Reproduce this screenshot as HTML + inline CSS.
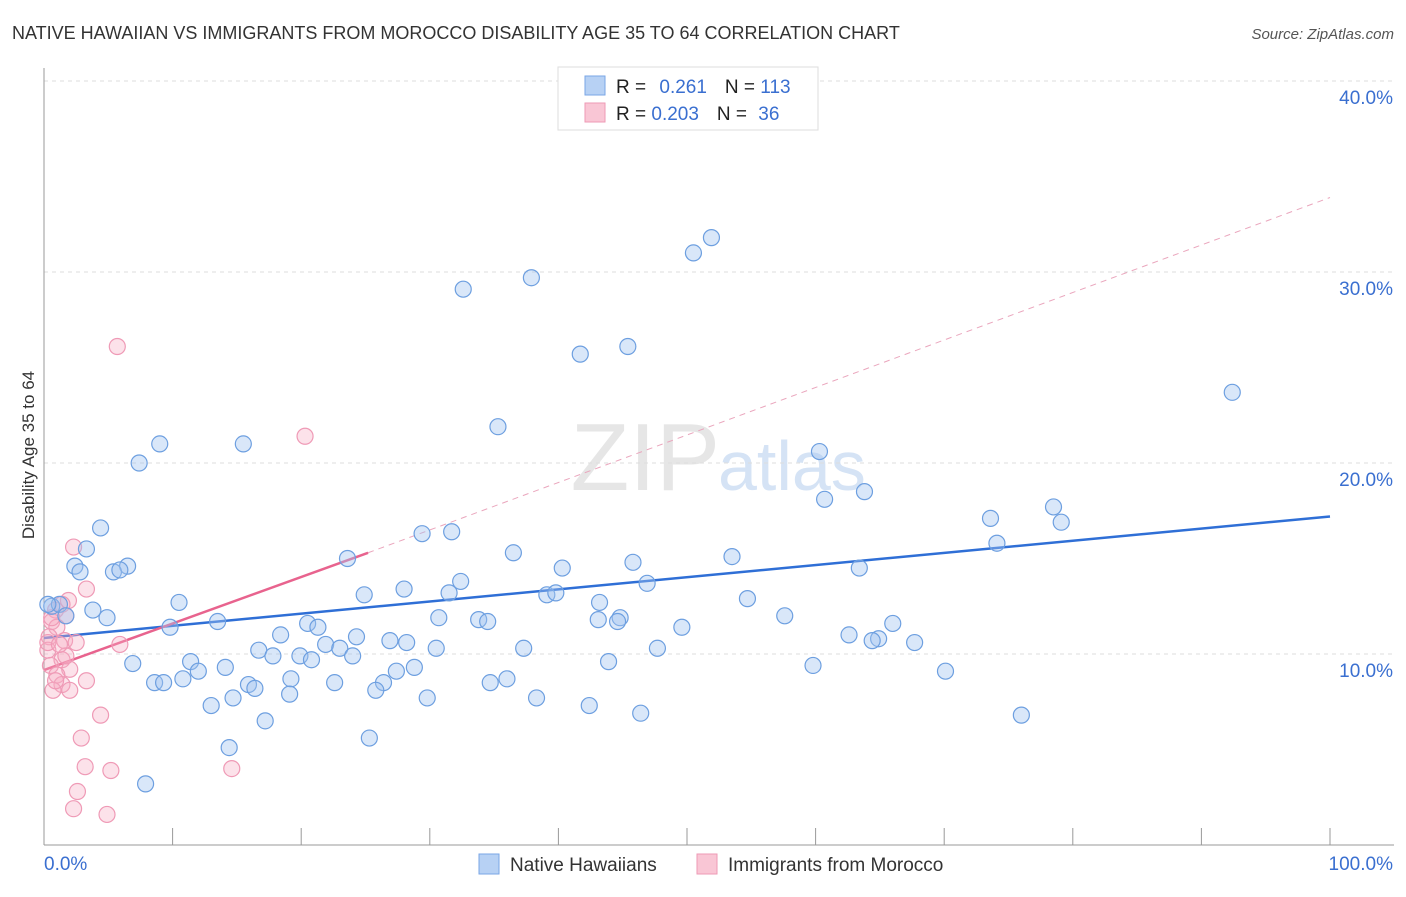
<!DOCTYPE html>
<html><head><meta charset="utf-8"><style>
body{margin:0;background:#fff;font-family:"Liberation Sans",sans-serif;}
svg text{font-family:"Liberation Sans",sans-serif;}
</style></head><body>
<svg id="chart" width="1406" height="892" xmlns="http://www.w3.org/2000/svg">
<text x="12" y="39" font-size="18" fill="#333">NATIVE HAWAIIAN VS IMMIGRANTS FROM MOROCCO DISABILITY AGE 35 TO 64 CORRELATION CHART</text>
<text x="1394" y="39" font-size="15" fill="#555" font-style="italic" text-anchor="end">Source: ZipAtlas.com</text>
<text x="34" y="455" font-size="17" fill="#333" text-anchor="middle" transform="rotate(-90 34 455)">Disability Age 35 to 64</text>
<text x="720" y="490" font-size="96" fill="#e6e6e6" text-anchor="end" font-family="Liberation Serif">ZIP</text>
<text x="718" y="490" font-size="70" fill="#d5e3f5">atlas</text>
<g id="grid"></g><g id="axes"></g><g id="trend"></g><g id="pts"></g>
<g>
<rect x="558" y="67" width="260" height="63" fill="#fff" stroke="#ddd"/>
<rect x="585" y="76" width="20" height="19" fill="#b7d1f4" stroke="#7aa6e6"/>
<rect x="585" y="103" width="20" height="19" fill="#f9c6d5" stroke="#ee9ab5"/>
<text x="616" y="93" font-size="19" fill="#222">R = <tspan fill="#3a6fd0" dx="8">0.261</tspan><tspan dx="18" fill="#222">N = </tspan><tspan fill="#3a6fd0">113</tspan></text>
<text x="616" y="120" font-size="19" fill="#222">R = <tspan fill="#3a6fd0">0.203</tspan><tspan dx="18" fill="#222">N = </tspan><tspan fill="#3a6fd0" dx="6">36</tspan></text>
</g>
<g>
<rect x="479" y="854" width="20" height="20" fill="#b7d1f4" stroke="#7aa6e6"/>
<text x="510" y="871" font-size="19" fill="#333">Native Hawaiians</text>
<rect x="697" y="854" width="20" height="20" fill="#f9c6d5" stroke="#ee9ab5"/>
<text x="728" y="871" font-size="19" fill="#333">Immigrants from Morocco</text>
</g>
</svg>
<script>
const blueX=[51.9,50.5,37.9,32.6,45.4,41.7,92.4,35.3,9.0,15.5,7.4,60.3,63.8,60.7,78.5,73.6,79.1,4.4,29.4,31.7,3.3,74.1,36.5,23.6,53.5,45.8,2.4,2.8,6.5,5.4,5.9,40.3,63.4,32.4,46.9,28.0,24.9,31.5,39.1,39.8,54.7,10.5,43.2,0.6,1.2,3.8,4.9,57.6,43.1,44.8,44.6,33.8,34.5,30.7,13.5,20.5,66.0,9.8,21.3,49.6,62.6,18.4,64.9,64.4,24.3,21.9,26.9,28.2,67.7,16.7,17.8,19.9,23.0,30.5,37.3,47.7,24.0,20.8,11.4,6.9,14.1,28.8,12.0,43.9,59.8,70.1,27.4,10.8,19.2,8.6,9.3,22.6,26.4,15.9,36.0,34.7,16.4,25.8,19.1,14.7,29.8,38.3,13.0,42.4,46.4,17.2,76.0,25.3,14.4,7.9,0.3,1.7];
const blueY=[31.8,31.0,29.7,29.1,26.1,25.7,23.7,21.9,21.0,21.0,20.0,20.6,18.5,18.1,17.7,17.1,16.9,16.6,16.3,16.4,15.5,15.8,15.3,15.0,15.1,14.8,14.6,14.3,14.6,14.3,14.4,14.5,14.5,13.8,13.7,13.4,13.1,13.2,13.1,13.2,12.9,12.7,12.7,12.5,12.6,12.3,11.9,12.0,11.8,11.9,11.7,11.8,11.7,11.9,11.7,11.6,11.6,11.4,11.4,11.4,11.0,11.0,10.8,10.7,10.9,10.5,10.7,10.6,10.6,10.2,9.9,9.9,10.3,10.3,10.3,10.3,9.9,9.7,9.6,9.5,9.3,9.3,9.1,9.6,9.4,9.1,9.1,8.7,8.7,8.5,8.5,8.5,8.5,8.4,8.7,8.5,8.2,8.1,7.9,7.7,7.7,7.7,7.3,7.3,6.9,6.5,6.8,5.6,5.1,3.2,12.6,12.0];
const pinkX=[5.7,20.3,2.3,3.3,1.9,1.4,0.9,1.7,0.6,1.0,0.4,1.6,2.5,5.9,0.3,1.4,0.5,2.0,1.0,3.3,1.4,2.0,4.4,2.9,3.2,5.2,14.6,2.6,2.3,4.9,0.7,1.7,0.3,0.9,0.6,1.2];
const pinkY=[26.1,21.4,15.6,13.4,12.8,12.6,12.3,12.0,11.7,11.4,10.9,10.7,10.6,10.5,10.2,9.7,9.4,9.2,8.9,8.6,8.4,8.1,6.8,5.6,4.1,3.9,4.0,2.8,1.9,1.6,8.1,9.9,10.6,8.6,11.9,10.5];
const yTicks=[10,20,30,40];
const yTickLabels=["10.0%","20.0%","30.0%","40.0%"];
const xTicks=[0,10,20,30,40,50,60,70,80,90,100];
const blueTrend=[[0,10.84],[100,17.2]];
const pinkTrend=[[0,9.16],[25.2,15.3]];
const pinkDash=[[25.2,15.3],[100,33.9]];
const NS="http://www.w3.org/2000/svg";
const sx=v=>44+v*12.86, sy=v=>845-v*19.1;
function mk(t,a,p){const e=document.createElementNS(NS,t);for(const k in a)e.setAttribute(k,a[k]);document.getElementById(p).appendChild(e);return e;}
yTicks.forEach((t,i)=>{
 const g=mk('line',{x1:44,x2:1394,y1:sy(t),y2:sy(t),stroke:'#ddd','stroke-dasharray':'4 4'},'grid');
 
 
 const l=mk('text',{x:1393,y:sy(t)+23,'font-size':19,fill:'#3a6fd0','text-anchor':'end'},'axes');
 l.textContent=yTickLabels[i];
 
 
});
mk('line',{x1:44,x2:1394,y1:sy(40),y2:sy(40),stroke:'#ddd','stroke-dasharray':'4 4'},'grid');
const ax=mk('line',{x1:44,x2:44,y1:68,y2:845,stroke:'#999'},'axes');


const bx=mk('line',{x1:44,x2:1394,y1:845,y2:845,stroke:'#999'},'axes');


xTicks.forEach(t=>{const e=mk('line',{x1:sx(t),x2:sx(t),y1:828,y2:845,stroke:'#999'},'axes');
 
 });
const x0=mk('text',{x:44,y:870,'font-size':19,fill:'#3a6fd0'},'axes');x0.textContent='0.0%';


const x1=mk('text',{x:1393,y:870,'font-size':19,fill:'#3a6fd0','text-anchor':'end'},'axes');x1.textContent='100.0%';


pinkX.forEach((v,i)=>{const c=mk('circle',{cx:sx(v),cy:sy(pinkY[i]),r:8,fill:'rgba(246,172,196,0.35)',stroke:'#ef9ab6','stroke-width':1.2},'pts');
 
 });
blueX.forEach((v,i)=>{const c=mk('circle',{cx:sx(v),cy:sy(blueY[i]),r:8,fill:'rgba(160,196,240,0.4)',stroke:'#6d9fe0','stroke-width':1.2},'pts');
 
 });
const d=mk('line',{x1:sx(pinkDash[0][0]),y1:sy(pinkDash[0][1]),x2:sx(pinkDash[1][0]),y2:sy(pinkDash[1][1]),stroke:'#eaa6bd','stroke-dasharray':'6 5'},'trend');


const bt=mk('line',{x1:sx(blueTrend[0][0]),y1:sy(blueTrend[0][1]),x2:sx(blueTrend[1][0]),y2:sy(blueTrend[1][1]),stroke:'#2f6fd6','stroke-width':2.5},'trend');


const pt=mk('line',{x1:sx(pinkTrend[0][0]),y1:sy(pinkTrend[0][1]),x2:sx(pinkTrend[1][0]),y2:sy(pinkTrend[1][1]),stroke:'#e8638e','stroke-width':2.5},'trend');


</script>
</body></html>
